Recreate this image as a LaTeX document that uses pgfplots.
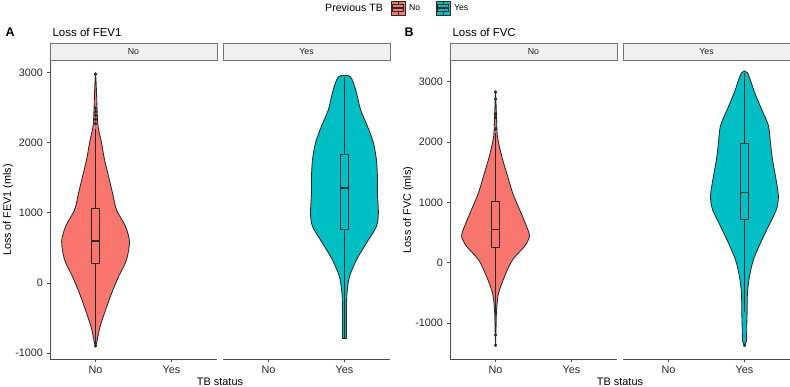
\documentclass[border=0pt]{standalone}
\usepackage{fontspec}
\setmainfont{Liberation Sans}
\usepackage{pgfplots}
\pgfplotsset{compat=1.18}

\definecolor{tbno}{HTML}{F8766D}
\definecolor{tbyes}{HTML}{00BFC4}
\definecolor{ink}{HTML}{2A2A2A}
\definecolor{stripfill}{HTML}{F0F0F0}

\pgfplotsset{
  facet/.style={
    scale only axis, width=167pt, height=298pt, anchor=south west,
    xmin=0.4, xmax=2.6, xtick={1,2}, xticklabels={No,Yes},
    axis x line=bottom, axis y line=left,
    axis line style={-, draw=black!70, line width=0.9pt},
    tick align=outside, major tick length=3.5pt,
    tick style={draw=black!70, line width=0.8pt},
    tick label style={font=\fontsize{10.8}{12}\selectfont, text=black!85},
    every axis y label/.style={at={(rel axis cs:0,0.5)}, xshift=-42pt,
      rotate=90, anchor=center, font=\fontsize{10.8}{12}\selectfont},
  },
  nofacet/.style={facet, axis y line=none, ytick=\empty},
  violin/.style={draw=ink, line width=0.85pt, fill=#1, smooth, tension=0.45},
  boxst/.style={draw=ink, line width=0.85pt, fill=#1},
  whisk/.style={draw=ink, line width=0.9pt},
  med/.style={draw=ink, line width=1.5pt},
  outl/.style={only marks, mark=*, mark size=1.5pt, draw=ink, fill=ink},
}

\begin{document}
\begin{tikzpicture}[x=1pt,y=1pt]
\path[use as bounding box] (0,0) rectangle (790,387);

% ---------- Panel A: loss of FEV1 ----------
\begin{axis}[facet, at={(50pt,28pt)}, ymin=-1083, ymax=3163,
  ytick={-1000,0,1000,2000,3000}, yticklabels={-1000,0,1000,2000,3000},
  ylabel={Loss of FEV1 (mls)}]
\addplot[violin=tbno] coordinates {(1,-900) (1.013,-862) (1.059,-624) (1.132,-386) (1.211,-148) (1.303,90) (1.408,329) (1.447,590) (1.395,805) (1.276,1043) (1.224,1281) (1.171,1519) (1.118,1757) (1.079,1995) (1.033,2233) (1.020,2471) (1.013,2710) (1,2975)
 (0.987,2710) (0.980,2471) (0.967,2233) (0.921,1995) (0.882,1757) (0.829,1519) (0.776,1281) (0.724,1043) (0.605,805) (0.553,590) (0.592,329) (0.697,90) (0.789,-148) (0.868,-386) (0.941,-624) (0.987,-862)} --cycle;
\addplot[whisk] coordinates {(1,1057) (1,2200)};
\addplot[whisk] coordinates {(1,281) (1,-870)};
\addplot[boxst=tbno] coordinates {(0.95,281) (1.05,281) (1.05,1057) (0.95,1057)} --cycle;
\addplot[med] coordinates {(0.95,595) (1.05,595)};
\addplot[outl] coordinates {(1,2270) (1,2330) (1,2390) (1,2440) (1,2490) (1,2975) (1,-895)};
\end{axis}

\begin{axis}[nofacet, at={(223pt,28pt)}, ymin=-1083, ymax=3163]
\addplot[violin=tbyes] coordinates {(2.026,-790) (2.026,-386) (2.033,-148) (2.066,90) (2.158,329) (2.289,567) (2.421,805) (2.447,995) (2.434,1281) (2.434,1519) (2.421,1757) (2.382,1995) (2.303,2233) (2.211,2471) (2.158,2710) (2.079,2938)
 (1.921,2938) (1.842,2710) (1.789,2471) (1.697,2233) (1.618,1995) (1.579,1757) (1.566,1519) (1.566,1281) (1.553,995) (1.579,805) (1.711,567) (1.842,329) (1.934,90) (1.967,-148) (1.974,-386) (1.974,-790)} --cycle;
\addplot[whisk] coordinates {(2,1833) (2,2938)};
\addplot[whisk] coordinates {(2,757) (2,-790)};
\addplot[boxst=tbyes] coordinates {(1.95,757) (2.05,757) (2.05,1833) (1.95,1833)} --cycle;
\addplot[med] coordinates {(1.95,1352) (2.05,1352)};
\end{axis}

% ---------- Panel B: loss of FVC ----------
\begin{axis}[facet, at={(450pt,28pt)}, ymin=-1595, ymax=3345,
  ytick={-1000,0,1000,2000,3000}, yticklabels={-1000,0,1000,2000,3000},
  ylabel={Loss of FVC (mls)}]
\addplot[violin=tbno] coordinates {(1,-1367) (1.007,-1061) (1.013,-783) (1.039,-506) (1.118,-228) (1.224,50) (1.382,272) (1.447,439) (1.408,606) (1.316,883) (1.224,1161) (1.158,1439) (1.092,1717) (1.039,1994) (1.020,2161) (1.009,2550) (1,2828)
 (0.991,2550) (0.980,2161) (0.961,1994) (0.908,1717) (0.842,1439) (0.776,1161) (0.684,883) (0.592,606) (0.553,439) (0.618,272) (0.776,50) (0.882,-228) (0.961,-506) (0.987,-783) (0.993,-1061)} --cycle;
\addplot[whisk] coordinates {(1,1022) (1,2150)};
\addplot[whisk] coordinates {(1,256) (1,-880)};
\addplot[boxst=tbno] coordinates {(0.95,256) (1.05,256) (1.05,1022) (0.95,1022)} --cycle;
\addplot[med] coordinates {(0.95,550) (1.05,550)};
\addplot[outl] coordinates {(1,2217) (1,2411) (1,2467) (1,2717) (1,2828) (1,-1200) (1,-1367)};
\end{axis}

\begin{axis}[nofacet, at={(623pt,28pt)}, ymin=-1595, ymax=3345]
\addplot[violin=tbyes] coordinates {(2,-1367) (2.026,-1300) (2.030,-1061) (2.036,-783) (2.039,-506) (2.066,-228) (2.118,50) (2.211,328) (2.316,606) (2.421,883) (2.447,1106) (2.408,1439) (2.368,1717) (2.342,1994) (2.316,2272) (2.224,2550) (2.132,2828) (2.039,3150)
 (1.961,3150) (1.868,2828) (1.776,2550) (1.684,2272) (1.658,1994) (1.632,1717) (1.592,1439) (1.553,1106) (1.579,883) (1.684,606) (1.789,328) (1.882,50) (1.934,-228) (1.961,-506) (1.964,-783) (1.970,-1061) (1.974,-1300)} --cycle;
\addplot[whisk] coordinates {(2,1978) (2,3150)};
\addplot[whisk] coordinates {(2,717) (2,-811)};
\addplot[boxst=tbyes] coordinates {(1.95,717) (2.05,717) (2.05,1978) (1.95,1978)} --cycle;
\addplot[med] coordinates {(1.95,1161) (2.05,1161)};
\addplot[outl] coordinates {(2,-1370)};
\end{axis}

% ---------- facet strips ----------
\foreach \x/\lab in {50/No, 223/Yes, 450/No, 623/Yes}{
  \draw[fill=stripfill, draw=black!55, line width=0.8pt] (\x,327) rectangle ++(167,17);
  \node[font=\fontsize{8.8}{10}\selectfont, text=black!85] at (\x+83.5,335.5) {\lab};
}

% ---------- panel tags and titles ----------
\node[anchor=west, font=\fontsize{12.5}{14}\selectfont\bfseries] at (2,355) {A};
\node[anchor=west, font=\fontsize{11.5}{13}\selectfont] at (49,355) {Loss of FEV1};
\node[anchor=west, font=\fontsize{12.5}{14}\selectfont\bfseries] at (401,355) {B};
\node[anchor=west, font=\fontsize{11.5}{13}\selectfont] at (449,355) {Loss of FVC};

% ---------- shared x-axis titles ----------
\node[font=\fontsize{10.9}{12}\selectfont] at (220,5) {TB status};
\node[font=\fontsize{10.9}{12}\selectfont] at (620,5) {TB status};

% ---------- legend ----------
\node[anchor=west, font=\fontsize{10.6}{12}\selectfont, inner sep=0pt] at (325,379) {Previous TB};
\foreach \x/\c/\lab in {391/tbno/No, 436/tbyes/Yes}{
  \draw[fill=\c, draw=ink, line width=0.7pt] (\x,372) rectangle ++(14,14);
  \draw[draw=ink, line width=0.7pt] (\x+1.75,375.5) rectangle ++(10.5,7);
  \draw[draw=ink, line width=1.1pt] (\x+1.75,379) -- ++(10.5,0);
  \draw[draw=ink, line width=0.7pt] (\x+7,372) -- ++(0,3.5) (\x+7,382.5) -- ++(0,3.5);
  \node[anchor=west, font=\fontsize{8.6}{9}\selectfont, inner sep=0pt] at (\x+18,379) {\lab};
}
\end{tikzpicture}
\end{document}
